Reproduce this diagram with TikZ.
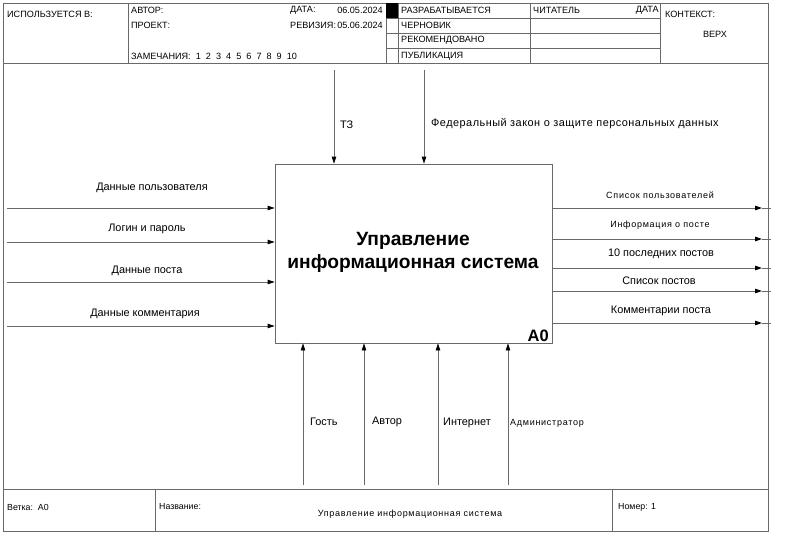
\documentclass[tikz,border=0pt]{standalone}
\usepackage{fontspec}
\setmainfont{Liberation Sans}
\newfontfamily\spaced[LetterSpace=8]{Liberation Sans}
\newfontfamily\wide[LetterSpace=4.5]{Liberation Sans}
\usetikzlibrary{arrows.meta}
\definecolor{ln}{RGB}{105,105,105}
\begin{document}
\begin{tikzpicture}[x=1pt,y=-1pt,
  frame/.style={draw=ln,line width=0.8pt},
  flow/.style={draw=ln,line width=0.8pt,-{Triangle[black,length=7pt,width=4.5pt]}},
  wire/.style={draw=ln,line width=0.8pt},
  hdr/.style={font=\fontsize{9.1}{10}\selectfont,inner sep=0pt,anchor=west},
  lbl/.style={font=\fontsize{10.9}{12}\selectfont,inner sep=0pt},
  wlbl/.style={font=\wide\fontsize{10.9}{12}\selectfont,inner sep=0pt},
  slbl/.style={font=\spaced\fontsize{9}{10}\selectfont,inner sep=0pt},
  foot/.style={font=\fontsize{8.8}{10}\selectfont,inner sep=0pt,anchor=west},
  funcbox/.style={draw=ln,line width=0.8pt,minimum width=277pt,minimum height=179pt,inner sep=0pt}
]
\useasboundingbox (0,0) rectangle (799,532);
% frame
\draw[frame] (3,3) rectangle (768,531);
\draw[frame] (3,63) -- (768,63);
\foreach \xx in {128,386,398,530,660} \draw[frame] (\xx,3) -- (\xx,63);
\foreach \yy in {18,33,48} \draw[frame] (386,\yy) -- (660,\yy);
\fill[black] (386,3) rectangle (398,18);
\draw[frame] (3,489) -- (768,489);
\foreach \xx in {155,612} \draw[frame] (\xx,489) -- (\xx,531);
% header text
\node[hdr] (h1) at (7,14) {ИСПОЛЬЗУЕТСЯ В:};
\node[hdr] (h2) at (131,10) {АВТОР:};
\node[hdr] (h3) at (131,25) {ПРОЕКТ:};
\node[hdr] (h4) at (131,56) {ЗАМЕЧАНИЯ:\ \ 1\ \ 2\ \ 3\ \ 4\ \ 5\ \ 6\ \ 7\ \ 8\ \ 9\ \ 10};
\node[hdr] (h5) at (290,10) {ДАТА:};
\node[hdr,anchor=east] (h6) at (383,10) {06.05.2024};
\node[hdr] (h7) at (290,25) {РЕВИЗИЯ:};
\node[hdr,anchor=east] (h8) at (383,25) {05.06.2024};
\node[hdr] (h9) at (401,10) {РАЗРАБАТЫВАЕТСЯ};
\node[hdr] (h10) at (401,25) {ЧЕРНОВИК};
\node[hdr] (h11) at (401,40) {РЕКОМЕНДОВАНО};
\node[hdr] (h12) at (401,56) {ПУБЛИКАЦИЯ};
\node[hdr] (h13) at (533,10) {ЧИТАТЕЛЬ};
\node[hdr,anchor=east] (h14) at (659,10) {ДАТА};
\node[hdr] (h15) at (665,14) {КОНТЕКСТ:};
\node[hdr,anchor=center] (h16) at (715,34) {ВЕРХ};
% footer text
\node[foot] (f1) at (7,507) {Ветка:\ \ A0};
\node[foot] (f2) at (159,507) {Название:};
\node[slbl] (f3) at (410,514) {Управление информационная система};
\node[foot] (f4) at (618,507) {Номер: 1};
% main box
\node[funcbox] (box) at (413.5,253.5) {};
\node[font=\bfseries\fontsize{19.2}{23}\selectfont,align=center,inner sep=0pt] (title) at (413,252) {Управление\\информационная система};
\node[font=\bfseries\fontsize{16.5}{18}\selectfont,inner sep=0pt,anchor=south east] (a0) at (549,342) {A0};
% top arrows
\coordinate (t1) at (334,70);
\coordinate (t2) at (424,70);
\draw[flow] (t1) -- (t1 |- box.north);
\draw[flow] (t2) -- (t2 |- box.north);
\node[lbl,anchor=west] (lt1) at (340,125) {ТЗ};
\node[wlbl,anchor=west] (lt2) at (431,124) {Федеральный закон о защите персональных данных};
% left arrows
\foreach \yy/\nm in {208/l1,242/l2,282/l3,326/l4} {
  \coordinate (\nm) at (7,\yy);
  \draw[flow] (\nm) -- (\nm -| box.west);
}
\node[lbl] (ll1) at (152,188) {Данные пользователя};
\node[lbl] (ll2) at (147,229) {Логин и пароль};
\node[lbl] (ll3) at (147,271) {Данные поста};
\node[lbl] (ll4) at (145,314) {Данные комментария};
% right arrows
\foreach \yy/\nm in {208/r1,239/r2,268/r3,291/r4,323/r5} {
  \coordinate (\nm) at (771,\yy);
  \coordinate (\nm t) at (762,\yy);
  \draw[flow] (box.east |- \nm) -- (\nm t);
  \draw[wire] (\nm t) -- (\nm);
}
\node[slbl] (lr1) at (660,195) {Список пользователей};
\node[slbl] (lr2) at (660,225) {Информация о посте};
\node[lbl] (lr3) at (661,254) {10 последних постов};
\node[lbl] (lr4) at (659,281) {Список постов};
\node[lbl] (lr5) at (661,311) {Комментарии поста};
% bottom arrows
\foreach \xx/\nm in {303/b1,364/b2,438/b3,508/b4} {
  \coordinate (\nm) at (\xx,485);
  \draw[flow] (\nm) -- (\nm |- box.south);
}
\node[lbl,anchor=west] (lb1) at (310,422) {Гость};
\node[lbl,anchor=west] (lb2) at (372,422) {Автор};
\node[lbl,anchor=west] (lb3) at (443,423) {Интернет};
\node[slbl,anchor=west] (lb4) at (510,423) {Администратор};
\end{tikzpicture}
\end{document}
